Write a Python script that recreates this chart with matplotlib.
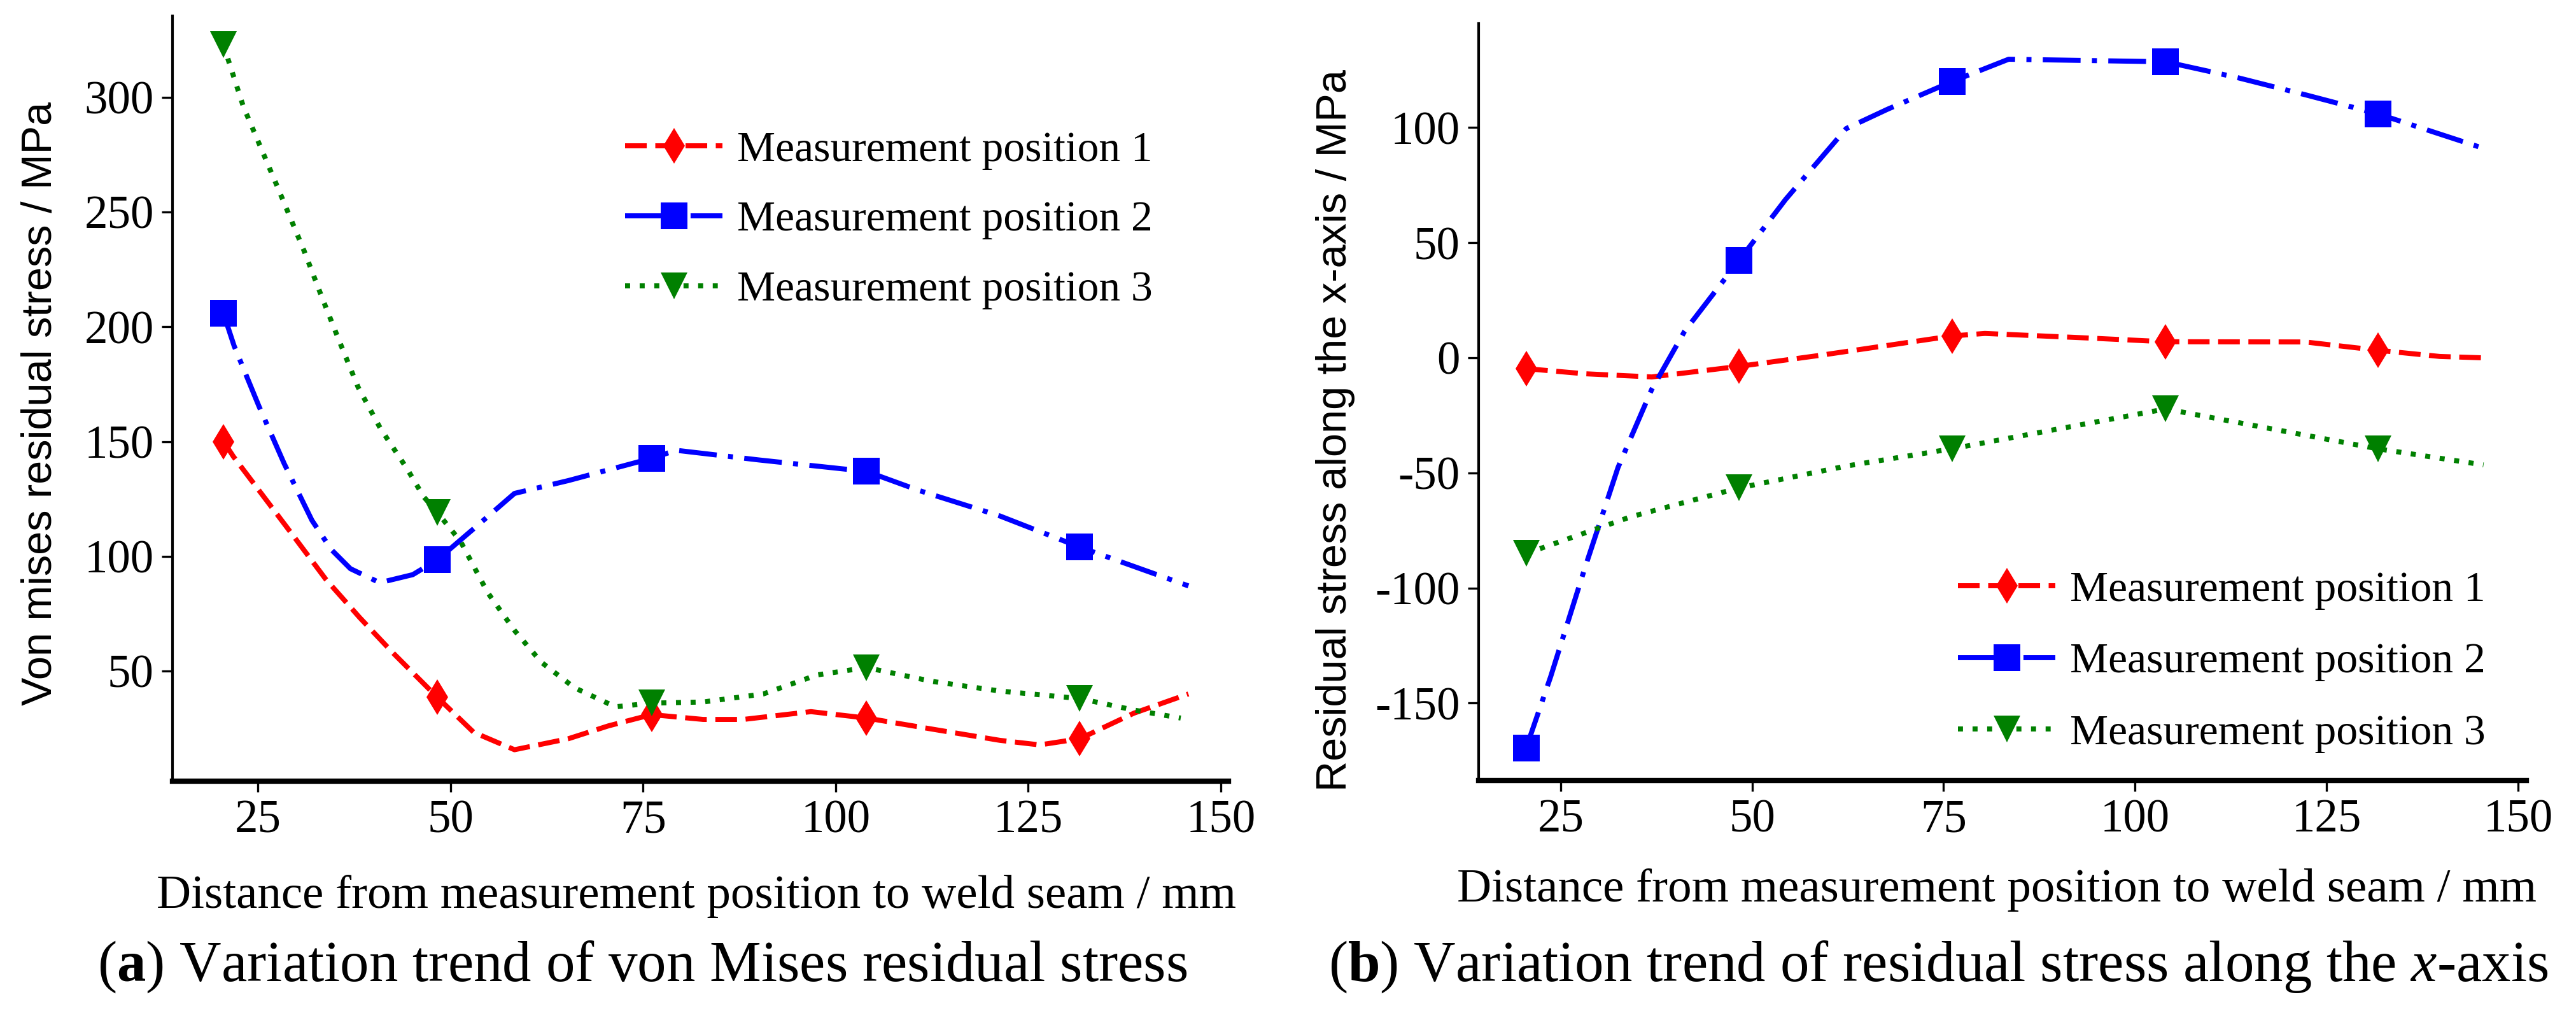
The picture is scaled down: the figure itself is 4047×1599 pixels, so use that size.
import matplotlib
matplotlib.use("Agg")
import matplotlib.pyplot as plt

plt.rcParams['font.family'] = ['Liberation Serif', 'DejaVu Serif']
plt.rcParams['mathtext.fontset'] = 'custom'
plt.rcParams['mathtext.rm'] = 'Liberation Serif'
plt.rcParams['mathtext.it'] = 'Liberation Serif:italic'
plt.rcParams['mathtext.bf'] = 'Liberation Serif:bold'
plt.rcParams['axes.unicode_minus'] = False

# measurement positions (mm from weld seam)
pos = [20.5, 48.3, 76.1, 104.0, 131.7]
labels = ['Measurement position 1', 'Measurement position 2', 'Measurement position 3']

# (a) von Mises residual stress, values at the measured points
vm1 = [150, 38.5, 31, 29.5, 20.5]
vm2 = [206, 98.5, 142.7, 137, 104]
vm3 = [323, 119, 36, 51.5, 38]

# (a) smoothed curves
vm1_x = [20.5, 21.8, 24.3, 29.3, 33.8, 38.2, 42.5, 48.3, 53, 58.3, 65.3, 70.5, 76.1, 82.8, 88, 96.8,
         104, 112.5, 121.3, 126.5, 131.7, 138.7, 145.8]
vm1_y = [150.2, 143.5, 132.4, 110.2, 90, 73.3, 58, 38.5, 23.3, 15.7, 20.5, 26.1, 31, 28.9, 28.9, 32.3,
         29.5, 24.7, 19.8, 17.8, 20.5, 31.6, 40]
vm2_x = [20.5, 21.9, 25.1, 28.4, 32, 34.5, 37, 40.8, 45.1, 48.3, 53, 58.3, 65.3, 76.1, 79.3, 90,
         104, 110.8, 121.3, 131.7, 145.8]
vm2_y = [206, 191.7, 165.6, 140.4, 115.7, 103, 94.6, 88.5, 92, 98.5, 112, 127.4, 133, 142.7, 146.2, 142,
         137, 128.7, 117.6, 104, 87.1]
vm3_x = [20.5, 23.1, 27.4, 31, 33.4, 35.7, 38, 40.9, 44.4, 46.5, 48.3, 51.3, 54.8, 58.3, 61.8, 66.1,
         71.4, 76.1, 82.8, 90.6, 97.6, 104, 112.5, 121.3, 131.7, 138.7, 144.8]
vm3_y = [323, 296, 262, 233, 212, 192.6, 173.7, 155.7, 137.9, 126, 119, 106.5, 84.3, 67.7, 53.8, 42.7,
         34.4, 36, 36.5, 40, 48.3, 51.5, 45.5, 41.3, 38, 33, 29.5]

# (b) residual stress along x, values at the measured points
sx1 = [-4.7, -3.7, 9.5, 7.0, 3.3]
sx2 = [-169.5, 42.3, 120, 128.5, 106]
sx3 = [-85, -56.5, -39.5, -22.2, -39.5]

# (b) smoothed curves
sx1_x = [20.5, 28.1, 36.9, 48.3, 58.9, 76.1, 80.4, 94, 104, 122.2, 131.7, 139.8, 145.5]
sx1_y = [-4.7, -6.9, -8.3, -3.7, 1.1, 9.5, 10.6, 8.6, 7.0, 6.9, 3.3, 0.6, 0]
sx2_x = [20.5, 23.7, 28.1, 32.5, 36.9, 41.2, 48.3, 54.4, 62.3, 67.7, 76.1, 83.5, 104, 113.4, 122.2,
         131.7, 145.5]
sx2_y = [-169.5, -138.5, -92, -47.6, -13.7, 11.6, 42.3, 68.9, 99.6, 108, 120, 129.7, 128.6, 121.7, 114.3,
         106, 91]
sx3_x = [20.5, 34.2, 48.3, 62.3, 76.1, 104, 131.7, 145.5]
sx3_y = [-85, -69, -56.5, -47, -39.5, -22.2, -39.5, -46.5]

styles = [
    dict(color='#ff0000', ls=(0, (4.3, 1.7)), marker='d', ms=9.4),
    dict(color='#0000ff', ls=(0, (7.5, 2.25, 1.0, 2.25)), marker='s', ms=10),
    dict(color='#008000', ls=(0, (1.0, 1.9)), marker='v', ms=10),
]

fig = plt.figure(figsize=(4047 / 300, 1599 / 300), dpi=300)
ax1 = fig.add_axes([0.06696, 0.23265, 0.40993, 0.75172])
ax2 = fig.add_axes([0.57401, 0.23327, 0.40672, 0.74359])


def draw(ax, curves, points):
    handles = []
    for (cx, cy), py, st in zip(curves, points, styles):
        ln, = ax.plot(cx, cy, color=st['color'], linestyle=st['ls'], lw=1.9)
        mk, = ax.plot(pos, py, color=st['color'], linestyle='none', marker=st['marker'],
                      markersize=st['ms'], markeredgewidth=0)
        handles.append((ln, mk))
    for s in ['top', 'right']:
        ax.spines[s].set_visible(False)
    ax.spines['bottom'].set_linewidth(2)
    ax.spines['left'].set_linewidth(1.0)
    ax.tick_params(direction='out', length=4, width=0.8, labelsize=17.5, pad=3)
    ax.set_xticks([25, 50, 75, 100, 125, 150])
    return handles


h1 = draw(ax1, [(vm1_x, vm1_y), (vm2_x, vm2_y), (vm3_x, vm3_y)], [vm1, vm2, vm3])
ax1.set_xlim(13.9, 151)
ax1.set_ylim(2, 335.5)
ax1.set_yticks([50, 100, 150, 200, 250, 300])
ax1.legend(h1, labels, loc='upper left', bbox_to_anchor=(0.4286, 0.8500), frameon=False,
           fontsize=16.2, handlelength=2.27, handletextpad=0.34, labelspacing=0.72,
           borderpad=0, borderaxespad=0)

h2 = draw(ax2, [(sx1_x, sx1_y), (sx2_x, sx2_y), (sx3_x, sx3_y)], [sx1, sx2, sx3])
ax2.set_xlim(14.3, 151.1)
ax2.set_ylim(-183.6, 145.2)
ax2.set_yticks([-150, -100, -50, 0, 50, 100])
ax2.legend(h2, labels, loc='upper left', bbox_to_anchor=(0.4575, 0.2770), frameon=False,
           fontsize=16.2, handlelength=2.27, handletextpad=0.34, labelspacing=0.76,
           borderpad=0, borderaxespad=0)

# axis titles
fig.text(0.0158, 0.6035, 'Von mises residual stress / MPa', rotation=90, ha='center', va='center',
         fontsize=16, family=['Liberation Sans', 'DejaVu Sans'])
fig.text(0.5184, 0.577, 'Residual stress along the x-axis / MPa', rotation=90, ha='center', va='center',
         fontsize=16, family=['Liberation Sans', 'DejaVu Sans'])
fig.text(0.2703, 0.1195, 'Distance from measurement position to weld seam / mm', ha='center', va='center',
         fontsize=18)
fig.text(0.7751, 0.1257, 'Distance from measurement position to weld seam / mm', ha='center', va='center',
         fontsize=18)

# panel captions
fig.text(0.2493, 0.05, r'($\mathbf{a}$) Variation trend of von Mises residual stress', ha='center',
         va='center', fontsize=21.8)
fig.text(0.7524, 0.05, r'($\mathbf{b}$) Variation trend of residual stress along the $x$-axis', ha='center',
         va='center', fontsize=21.8)

fig.savefig('out.png', dpi=300)
